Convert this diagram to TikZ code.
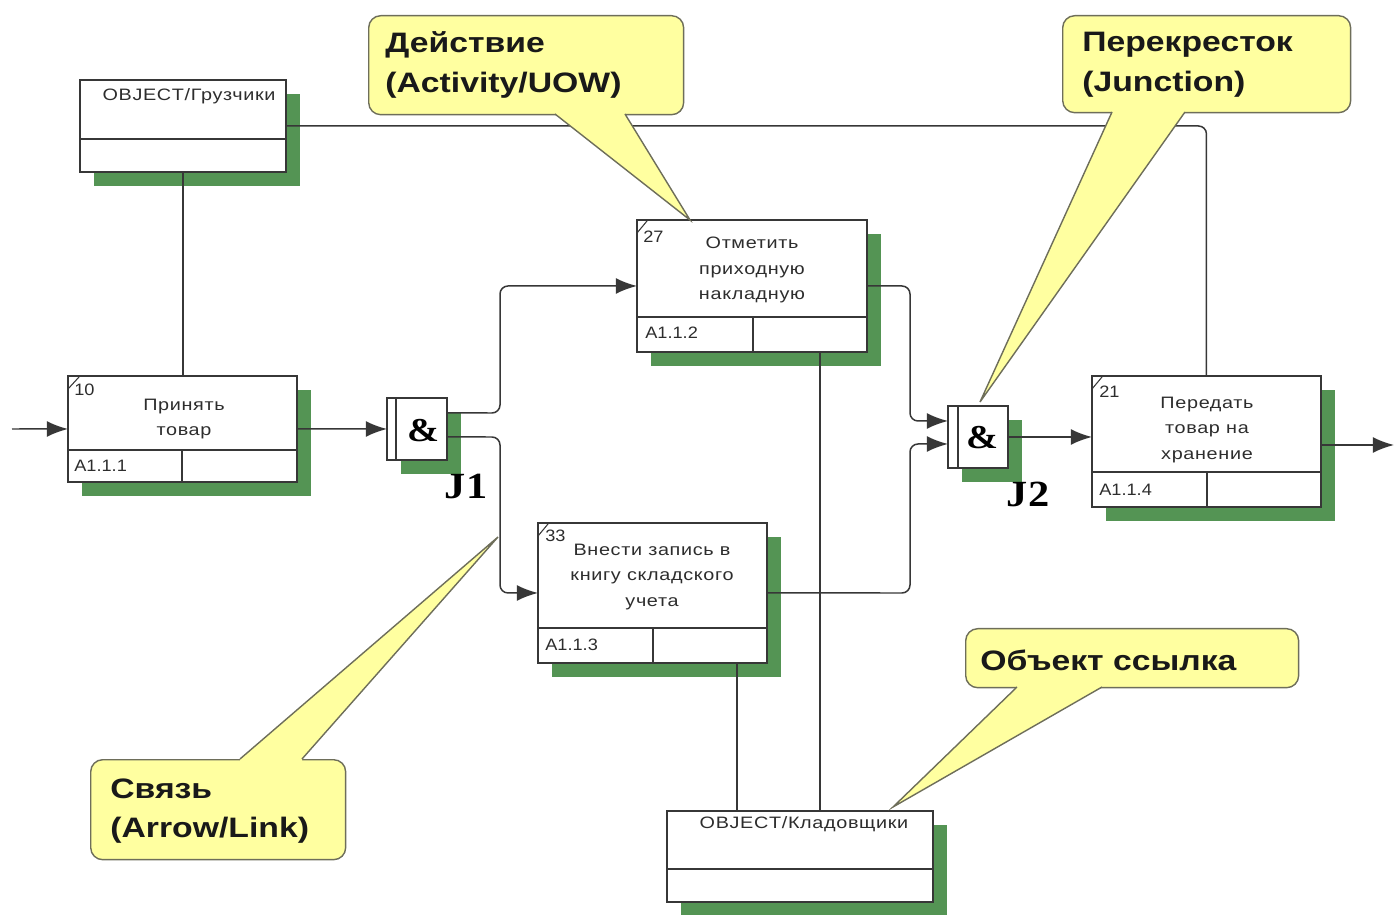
\documentclass[tikz,border=0pt]{standalone}
\usepackage{fontspec}
\setmainfont{Liberation Sans}
\newfontfamily\boxfont{Liberation Sans}[FakeStretch=1.2, LetterSpace=4]
\newfontfamily\numfont{Liberation Sans}[FakeStretch=1.1]
\newfontfamily\callfont{Liberation Sans}[FakeStretch=1.2]
\newfontfamily\jfont{Liberation Serif}[FakeStretch=1.15]
\usetikzlibrary{shadows,calc,arrows.meta}
\definecolor{shgreen}{RGB}{84,148,84}
\definecolor{lgray}{RGB}{55,55,55}
\definecolor{callfill}{RGB}{255,255,160}
\definecolor{callline}{RGB}{110,110,90}
\definecolor{txt}{RGB}{45,45,45}
\tikzset{
  conn/.style={draw=lgray, line width=0.85pt, rounded corners=0.16cm},
  arr/.style={conn, -{Latex[length=12pt,width=9pt]}},
  divl/.style={draw=lgray, line width=0.85pt},
  slash/.style={draw=lgray, line width=0.6pt},
  box/.style={draw=lgray, line width=0.85pt, fill=white, inner sep=0pt, outer sep=0pt,
    anchor=north west,
    general shadow={fill=shgreen, shadow xshift=0.28cm, shadow yshift=-0.28cm}},
  btext/.style={font=\boxfont\fontsize{9.4}{14.3}\selectfont, text=txt, align=center, inner sep=0pt},
  ntext/.style={font=\numfont\fontsize{9.4}{12}\selectfont, text=txt, inner sep=0pt, anchor=west},
  amp/.style={font=\jfont\bfseries\fontsize{19}{20}\selectfont, inner sep=0pt},
  jlab/.style={font=\jfont\bfseries\fontsize{21}{22}\selectfont, inner sep=0pt},
  callbox/.style={draw=callline, line width=0.8pt, fill=callfill, rounded corners=0.24cm,
    anchor=north west, inner sep=0pt},
  ctext/.style={font=\callfont\bfseries\fontsize{16}{22.5}\selectfont, text=black!90,
    align=left, anchor=west, inner sep=0pt},
  ptr/.style={draw=callline, line width=0.8pt, line join=miter},
}
\begin{document}
\begin{tikzpicture}[x=0.02cm, y=-0.02cm]
\useasboundingbox (0,0) rectangle (1394,915);

% ---------- boxes ----------
\node[box, minimum width=4.12cm, minimum height=1.84cm] (og) at (80,80) {};
\node[box, minimum width=4.58cm, minimum height=2.12cm] (a1) at (68,376) {};
\node[box, minimum width=4.60cm, minimum height=2.64cm] (a2) at (637,220) {};
\node[box, minimum width=4.58cm, minimum height=2.80cm] (a3) at (538,523) {};
\node[box, minimum width=4.58cm, minimum height=2.62cm] (a4) at (1092,376) {};
\node[box, minimum width=5.32cm, minimum height=1.82cm] (ok) at (667,811) {};
\node[box, minimum width=1.20cm, minimum height=1.24cm] (j1) at (387,398) {};
\node[box, minimum width=1.20cm, minimum height=1.24cm] (j2) at (948,406) {};

% inner lines
\draw[divl] (80,139) -- (286,139);
\draw[divl] (68,450) -- (297,450);  \draw[divl] (182,450) -- (182,482);
\draw[divl] (637,317) -- (867,317); \draw[divl] (753,317) -- (753,352);
\draw[divl] (538,628) -- (767,628); \draw[divl] (653,628) -- (653,663);
\draw[divl] (1092,472) -- (1321,472); \draw[divl] (1207,472) -- (1207,507);
\draw[divl] (667,869) -- (933,869);
\draw[divl] (396,398) -- (396,460);
\draw[divl] (958,406) -- (958,468);

% corner slashes
\draw[slash] (68,389) -- (79,377);
\draw[slash] (637,233) -- (647,221);
\draw[slash] (538,536) -- (548,524);
\draw[slash] (1092,389) -- (1102,377);

% ---------- texts ----------
\node[btext] (ogt) at (189,96) {OBJECT/Грузчики};
\node[btext] (okt) at (804,824) {OBJECT/Кладовщики};

\node[ntext] (a1n) at (74,390) {10};
\node[btext] (a1t) at (184,419) {Принять\\товар};
\node[ntext] (a1c) at (74,466) {A1.1.1};

\node[ntext] (a2n) at (643,237) {27};
\node[btext] (a2t) at (752,270) {Отметить\\приходную\\накладную};
\node[ntext] (a2c) at (645,333) {A1.1.2};

\node[ntext] (a3n) at (545,536) {33};
\node[btext] (a3t) at (652,577) {Внести запись в\\книгу складского\\учета};
\node[ntext] (a3c) at (545,645) {A1.1.3};

\node[ntext] (a4n) at (1099,392) {21};
\node[btext] (a4t) at (1207,430) {Передать\\товар на\\хранение};
\node[ntext] (a4c) at (1099,490) {A1.1.4};

\node[amp] (j1a) at (423,431) {\&};
\node[amp] (j2a) at (982,438) {\&};
\node[jlab] (j1l) at (466,487) {J1};
\node[jlab] (j2l) at (1028,494) {J2};

% ---------- connectors ----------
\coordinate (src) at (12,429);
\coordinate (sink) at (1394,445);
\draw[arr] (src) -- (a1.west);
\draw[arr] (a1.east) -- (j1.west);
\draw[arr] ($(j1.east)+(0,-16)$) -- (500,413) |- (a2.west);
\draw[arr] ($(j1.east)+(0,8)$) -- (500,437) |- (a3.west);
\draw[arr] (a2.east) -- (910,286) |- ($(j2.west)+(0,-16)$);
\draw[arr] (a3.east) -- (910,593) |- ($(j2.west)+(0,7)$);
\draw[arr] (j2.east) -- (j2.east -| a4.west);
\draw[arr] (a4.east |- sink) -- (sink);
\draw[conn] (og.east) -| (a4.north);
\draw[conn] (og.south) -- (og.south |- a1.north);
\coordinate (a2b) at ($(a2.south west)+(183,0)$);
\coordinate (a3b) at ($(a3.south west)+(199,0)$);
\draw[conn] (a2b) -- (a2b |- ok.north);
\draw[conn] (a3b) -- (a3b |- ok.north);

% ---------- callouts ----------
\node[callbox, minimum width=6.30cm, minimum height=1.98cm] (c1) at (368,15) {};
\coordinate (c1tip) at (690,220);
\fill[callfill] (555,108) -- (555,114) -- (c1tip) -- (625,114) -- (625,108) -- cycle;
\draw[ptr] (555,114) -- (c1tip) -- (625,114);
\node[ctext] (c1t) at (385,65) {Действие\\(Activity/UOW)};

\node[callbox, minimum width=5.76cm, minimum height=1.94cm] (c2) at (1062,15) {};
\coordinate (c2tip) at (980,402);
\fill[callfill] (1112,106) -- (1112,112) -- (c2tip) -- (1185,112) -- (1185,106) -- cycle;
\draw[ptr] (1112,112) -- (c2tip) -- (1185,112);
\node[ctext] (c2t) at (1082,65) {Перекресток\\(Junction)};

\node[callbox, minimum width=5.10cm, minimum height=2.00cm] (c3) at (90,759) {};
\coordinate (c3tip) at (498,537);
\fill[callfill] (240,765) -- (240,759) -- (c3tip) -- (302,759) -- (302,765) -- cycle;
\draw[ptr] (240,759) -- (c3tip) -- (302,759);
\node[ctext] (c3t) at (110,811) {Связь\\(Arrow/Link)};

\node[callbox, minimum width=6.66cm, minimum height=1.18cm] (c4) at (965,628) {};
\coordinate (c4tip) at (893,807);
\fill[callfill] (1017,681) -- (1017,687) -- (c4tip) -- (1102,687) -- (1102,681) -- cycle;
\draw[ptr] (1017,687) -- (c4tip) -- (1102,687);
\node[ctext] (c4t) at (980,660) {Объект ссылка};
\end{tikzpicture}
\end{document}
